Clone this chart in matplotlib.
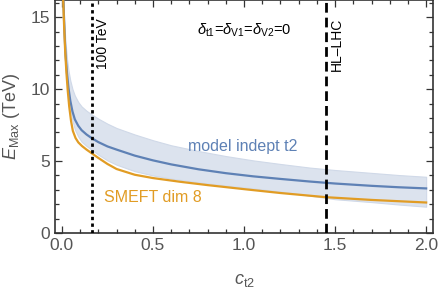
import matplotlib
matplotlib.use("Agg")
import matplotlib.pyplot as plt
from matplotlib.ticker import MultipleLocator

# ---- data ----
c_orange = [0.007, 0.012, 0.018, 0.025, 0.032, 0.04, 0.05, 0.06, 0.075, 0.09, 0.11, 0.135,
            0.163, 0.2, 0.25, 0.3, 0.4, 0.5, 0.65, 0.8, 1.0, 1.2, 1.45, 1.7, 2.0]
e_orange = [16.2, 14.4, 12.6, 11.1, 9.9, 8.8, 7.8, 7.1, 6.6, 6.3, 6.05, 5.8,
            5.55, 5.22, 4.8, 4.45, 4.05, 3.82, 3.56, 3.33, 3.05, 2.78, 2.49, 2.3, 2.12]

c_blue = [0.008, 0.014, 0.02, 0.028, 0.036, 0.046, 0.058, 0.071, 0.09, 0.108, 0.135, 0.163,
          0.2, 0.25, 0.3, 0.4, 0.5, 0.6, 0.75, 0.9, 1.05, 1.2, 1.36, 1.5, 1.7, 1.85, 2.0]
e_blue = [16.2, 14.0, 12.4, 11.1, 10.1, 9.2, 8.45, 7.9, 7.45, 7.15, 6.85, 6.6,
          6.32, 6.02, 5.8, 5.38, 5.05, 4.77, 4.43, 4.16, 3.94, 3.76, 3.58, 3.44, 3.28, 3.18, 3.1]
e_band_hi = [16.2, 14.4, 13.2, 12.1, 11.3, 10.6, 10.0, 9.55, 9.1, 8.8, 8.5, 8.25,
             7.95, 7.6, 7.3, 6.85, 6.45, 6.1, 5.7, 5.35, 5.05, 4.8, 4.55, 4.38, 4.18, 4.03, 3.91]
e_band_lo = [16.2, 13.7, 12.0, 10.6, 9.6, 8.6, 7.8, 7.2, 6.7, 6.35, 6.05, 5.8,
             5.45, 5.05, 4.75, 4.3, 4.0, 3.78, 3.52, 3.3, 3.1, 2.88, 2.6, 2.35, 2.15, 1.98, 1.83]

c_100tev = 0.163
c_hllhc = 1.45

# ---- style ----
plt.rcParams["font.family"] = ["Liberation Sans", "DejaVu Sans"]
plt.rcParams["mathtext.fontset"] = "custom"
plt.rcParams["mathtext.rm"] = "Liberation Sans"
plt.rcParams["mathtext.it"] = "Liberation Sans:italic"

BLUE = "#5e81b5"
ORANGE = "#e19c24"
BAND = "#dce3ee"
GRAY = "#555555"

fig = plt.figure(figsize=(4.41, 2.91), dpi=100)
ax = fig.add_axes([0.1247, 0.1993, 0.8573, 0.8007])

ax.fill_between(c_blue, e_band_lo, e_band_hi, color=BAND, lw=0.8, edgecolor="#d0d9e8", zorder=1)
ax.plot(c_blue, e_blue, color=BLUE, lw=1.6, zorder=3)
ax.plot(c_orange, e_orange, color=ORANGE, lw=1.6, zorder=3)

ax.axvline(c_100tev, color="black", lw=2, linestyle=(0, (1.2, 1.2)), zorder=4)
ax.axvline(c_hllhc, color="black", lw=2, linestyle=(0, (3.5, 1.8)), zorder=4)

ax.text(c_100tev + 0.06, 14.9, "100 TeV", rotation=90, ha="center", va="top", fontsize=10)
ax.text(c_hllhc + 0.06, 15.0, "HL\u2013LHC", rotation=90, ha="center", va="top", fontsize=10)
ax.text(1.0, 14.1, r"$\delta_{\rm t1}$=$\delta_{\rm V1}$=$\delta_{\rm V2}$=0",
        ha="center", va="center", fontsize=10.5)
ax.text(0.99, 6.0, "model indept t2", color=BLUE, ha="center", va="center", fontsize=11.5)
ax.text(0.5, 2.5, "SMEFT dim 8", color=ORANGE, ha="center", va="center", fontsize=11.5)

ax.set_xlim(-0.038, 2.038)
ax.set_ylim(0, 16.2)
ax.xaxis.set_major_locator(MultipleLocator(0.5))
ax.xaxis.set_minor_locator(MultipleLocator(0.1))
ax.yaxis.set_major_locator(MultipleLocator(5))
ax.yaxis.set_minor_locator(MultipleLocator(1))
ax.set_xticks([0, 0.5, 1.0, 1.5, 2.0])
ax.set_xticklabels(["0.0", "0.5", "1.0", "1.5", "2.0"])

ax.tick_params(which="both", direction="in", top=True, right=True, colors="#333333",
               labelcolor=GRAY, labelsize=12.5, width=0.9)
ax.tick_params(which="major", length=5)
ax.tick_params(which="minor", length=3)
for s in ax.spines.values():
    s.set_color("#333333")
    s.set_linewidth(1.2)

ax.set_xlabel(r"$c_{\rm t2}$", color=GRAY, fontsize=13, labelpad=14)
ax.set_ylabel(r"$E_{\rm Max}$ (TeV)", color=GRAY, fontsize=13, labelpad=6)

fig.savefig("out.png", dpi=100)
